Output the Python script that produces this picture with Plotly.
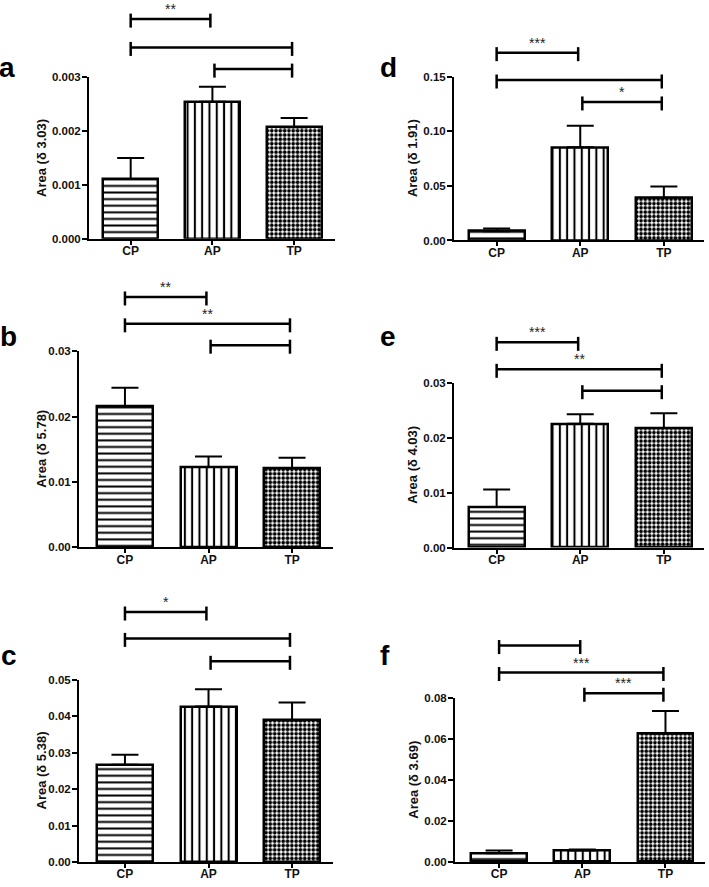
import plotly.graph_objects as go

categories = ["CP", "AP", "TP"]

a_mean = [0.00111, 0.00254, 0.00207]
a_err = [0.00039, 0.00028, 0.00017]
b_mean = [0.0216, 0.0123, 0.0121]
b_err = [0.0028, 0.0016, 0.0016]
c_mean = [0.0267, 0.0427, 0.0389]
c_err = [0.0028, 0.0048, 0.0049]
d_mean = [0.0085, 0.0853, 0.0392]
d_err = [0.0025, 0.0197, 0.0103]
e_mean = [0.0074, 0.0226, 0.0218]
e_err = [0.0032, 0.0017, 0.0027]
f_mean = [0.0043, 0.0056, 0.0624]
f_err = [0.0013, 0.0005, 0.0110]

panel_letters = ["a", "b", "c", "d", "e", "f"]
y_titles = ["Area (δ 3.03)", "Area (δ 5.78)", "Area (δ 5.38)",
            "Area (δ 1.91)", "Area (δ 4.03)", "Area (δ 3.69)"]
y_max = [0.003, 0.03, 0.05, 0.15, 0.03, 0.08]
y_dtick = [0.001, 0.01, 0.01, 0.05, 0.01, 0.02]
y_format = [".3f", ".2f", ".2f", ".2f", ".2f", ".2f"]

# significance comparisons (top to bottom) and their labels per panel
comparisons = [(0, 1), (0, 2), (1, 2)]
stars_a = ["**", "", ""]
stars_b = ["**", "**", ""]
stars_c = ["*", "", ""]
stars_d = ["***", "", "*"]
stars_e = ["***", "**", ""]
stars_f = ["", "***", "***"]

means = [a_mean, b_mean, c_mean, d_mean, e_mean, f_mean]
errs = [a_err, b_err, c_err, d_err, e_err, f_err]
stars = [stars_a, stars_b, stars_c, stars_d, stars_e, stars_f]

# ---- layout / style (pixels in a 709 x 887 canvas) ----
W, H = 709, 887
panel_px = [(89, 335, 72, 236), (79, 333, 350, 548.7), (79, 333, 683.3, 867.7),
            (454, 704, 71.7, 237.7), (454, 704, 382.3, 549), (455, 705, 701, 867.7)]
x_ranges = [(-0.51, 2.5), (-0.55, 2.49), (-0.55, 2.49),
            (-0.51, 2.48), (-0.51, 2.48), (-0.53, 2.475)]
bracket_levels = [[1.358, 1.183, 1.049], [1.277, 1.140, 1.031], [1.374, 1.229, 1.103],
                  [1.147, 0.980, 0.846], [1.248, 1.084, 0.954], [1.316, 1.152, 1.026]]
bracket_pad = 0.025
ytitle_x = [42, 41.5, 41.5, 412.5, 412.5, 414]
letter_pos = [(7.5, 73), (8.5, 346), (8.5, 669), (388, 73), (388, 346), (385, 669)]

FONT = "Arial, 'Liberation Sans', sans-serif"
patterns = [dict(shape="-", size=6.6, solidity=0.3, fgcolor="black", bgcolor="white", fillmode="replace"),
            dict(shape="|", size=7.3, solidity=0.28, fgcolor="black", bgcolor="white", fillmode="replace"),
            dict(shape=".", size=4.3, solidity=0.58, fgcolor="black", bgcolor="white", fillmode="replace")]

fig = go.Figure()
shapes = []
annotations = []
xs = list(range(len(categories)))

for i in range(6):
    xa = "x" if i == 0 else f"x{i+1}"
    ya = "y" if i == 0 else f"y{i+1}"
    for k in range(len(categories)):
        fig.add_trace(go.Bar(
            x=[xs[k]], y=[means[i][k]], width=0.67,
            xaxis=xa, yaxis=ya, showlegend=False,
            marker=dict(color="white", pattern=patterns[k],
                        line=dict(color="black", width=2.5)),
            error_y=dict(type="data", symmetric=False, array=[errs[i][k]],
                         arrayminus=[0], color="black", thickness=2, width=13.5),
        ))
    l, r, t, b = panel_px[i]
    xkey = "xaxis" if i == 0 else f"xaxis{i+1}"
    ykey = "yaxis" if i == 0 else f"yaxis{i+1}"
    fig.update_layout(**{
        xkey: dict(domain=[l / W, r / W], anchor=ya, range=list(x_ranges[i]),
                   tickvals=xs, ticktext=categories, showline=True, linewidth=2,
                   linecolor="black", ticks="outside", ticklen=4, tickwidth=1.5,
                   tickcolor="black", showgrid=False, zeroline=False, fixedrange=True,
                   ticklabelstandoff=-4,
                   tickfont=dict(family=FONT, size=12, color="#111", weight="bold")),
        ykey: dict(domain=[1 - b / H, 1 - t / H], anchor=xa, range=[0, y_max[i]],
                   dtick=y_dtick[i], tick0=0, tickformat=y_format[i], showline=True,
                   linewidth=2, linecolor="black", ticks="outside", ticklen=5,
                   tickwidth=2, tickcolor="black", showgrid=False, zeroline=False,
                   fixedrange=True, ticklabelstandoff=-1,
                   tickfont=dict(family=FONT, size=11.5, color="#111", weight="bold")),
    })
    # significance brackets
    for j, (c0, c1) in enumerate(comparisons):
        L = bracket_levels[i][j]
        x0 = xs[c0] + (bracket_pad if c0 > 0 else 0)
        x1 = xs[c1] - bracket_pad
        shapes.append(dict(type="line", xref=xa, yref=f"{ya} domain", x0=x0, x1=x1,
                           y0=L, y1=L, line=dict(color="black", width=2.5)))
        for xp in (x0, x1):
            shapes.append(dict(type="line", xref=xa, yref=f"{ya} domain",
                               ysizemode="pixel", yanchor=L, x0=xp, x1=xp,
                               y0=-8.5, y1=5.5, line=dict(color="black", width=2.5)))
        if stars[i][j]:
            annotations.append(dict(xref=xa, yref=f"{ya} domain", x=(x0 + x1) / 2, y=L,
                                    yanchor="bottom", xanchor="center", showarrow=False,
                                    text=stars[i][j],
                                    font=dict(family=FONT, size=14, color="#222")))
    # y title
    annotations.append(dict(xref="paper", yref="paper", x=ytitle_x[i] / W,
                            y=1 - (t + b) / 2 / H, text=y_titles[i], textangle=-90,
                            showarrow=False, xanchor="center", yanchor="middle",
                            font=dict(family=FONT, size=13, color="#111", weight="bold")))
    # panel letter
    lx, lb = letter_pos[i]
    annotations.append(dict(xref="paper", yref="paper", x=lx / W, y=1 - (lb + 7) / H,
                            text=panel_letters[i], showarrow=False, xanchor="center",
                            yanchor="bottom",
                            font=dict(family=FONT, size=28, color="black", weight="bold")))

fig.update_layout(width=W, height=H, margin=dict(l=0, r=0, t=0, b=0),
                  paper_bgcolor="white", plot_bgcolor="white", bargap=0,
                  shapes=shapes, annotations=annotations)

fig.write_html("out.html", config={"displayModeBar": False},
               post_script="document.body.style.margin='0';document.body.style.padding='0';"
                           "document.body.style.overflow='hidden';")
